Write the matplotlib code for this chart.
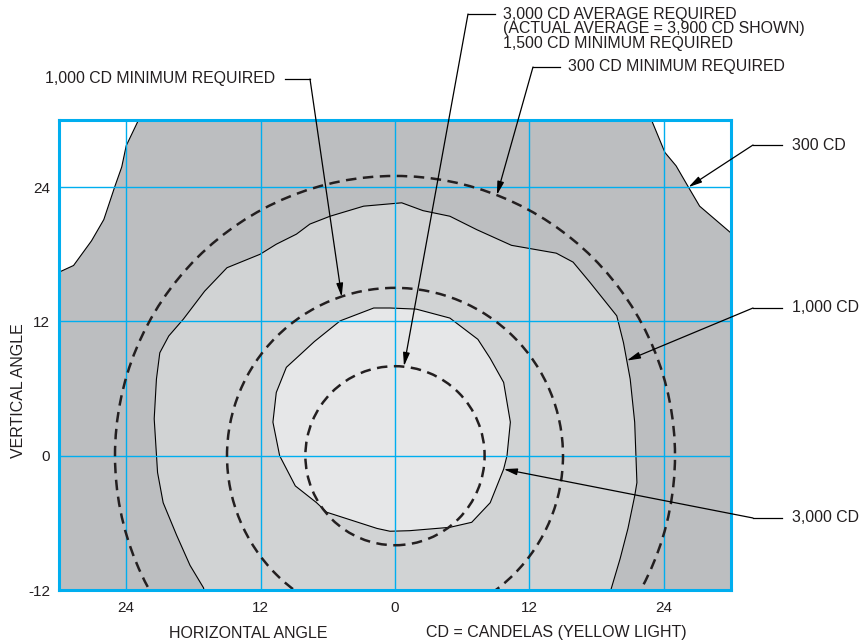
import matplotlib
matplotlib.use('Agg')
import matplotlib.pyplot as plt
from matplotlib.patches import Circle
from matplotlib.lines import Line2D

plt.rcParams['font.family'] = ['Liberation Sans', 'DejaVu Sans']

# contour boundaries (degrees)
c300_x = [-30, -28.7, -27.1, -26.0, -25.0, -24.4, -24.0, -22.9,
          22.9, 24.1, 25.1, 26.2, 27.2, 30]
c300_y = [16.4, 17.0, 19.2, 21.1, 24.1, 25.8, 27.7, 30,
          30, 27.1, 25.9, 24.0, 22.3, 19.9]

c1000_x = [-16.8, -17.1, -18.3, -19.5, -20.7, -21.2, -21.5, -21.3, -21.0, -20.2,
           -18.9, -17.0, -15.0, -12.05, -10.6, -8.8, -7.6, -5.8, -2.8, 0.6,
           2.5, 4.9, 7.3, 10.4, 14.4, 15.9, 17.4, 18.6, 19.8, 20.4,
           21.0, 21.4, 21.6, 21.4, 20.8, 20.1, 19.3, 19.0]
c1000_y = [-13, -11.8, -9.8, -7.1, -4.2, -1.5, 3.3, 6.85, 9.2, 10.7,
           12.2, 14.7, 16.8, 18.0, 18.9, 19.8, 20.7, 21.4, 22.3, 22.6,
           21.9, 21.4, 20.2, 18.8, 18.1, 17.3, 15.5, 14.0, 12.5, 10.1,
           6.85, 3.0, -2.4, -3.6, -6.5, -9.2, -11.9, -13]

c3000_x = [-0.45, 1.9, 4.9, 7.4, 8.5, 9.7, 10.3, 10.0, 9.7, 8.5,
           6.85, 4.9, 1.3, -0.45, -1.6, -6.1, -7.0, -8.9, -10.3, -10.9,
           -10.6, -9.7, -8.5, -7.2, -4.9, -1.9]
c3000_y = [13.2, 13.1, 12.3, 10.4, 8.7, 6.55, 3.0, 0, -1.2, -4.2,
           -5.95, -6.4, -6.7, -6.75, -6.5, -5.05, -4.2, -2.7, 0, 3.0,
           5.65, 7.9, 9.0, 10.2, 12.05, 13.2]

# required-intensity circles (dashed)
circle_radii = [8, 15, 25]

xticks = [-24, -12, 0, 12, 24]
xtick_labels = ['24', '12', '0', '12', '24']
yticks = [-12, 0, 12, 24]
ytick_labels = ['-12', '0', '12', '24']

# callouts: text, arrow tip (data)
top_labels = ['1,000 CD MINIMUM REQUIRED', '3,000 CD AVERAGE REQUIRED',
              '300 CD MINIMUM REQUIRED']
top_tips = [(-4.76, 14.2), (0.8, 8.0), (9.1, 23.3)]
side_labels = ['300 CD', '1,000 CD', '3,000 CD']
side_tips = [(26.2, 24.0), (20.7, 8.5), (9.7, -1.2)]

W, H = 860, 640
BLUE = '#00aeef'
TXT = '#231f20'


def pix(x, y):
    # pixel position (from top-left) -> figure fraction
    return (x / W, 1 - y / H)


fig = plt.figure(figsize=(8.6, 6.4), dpi=100)
ax = fig.add_axes([59 / W, 50 / H, 672 / W, 470 / H])
ax.set_xlim(-30, 30)
ax.set_ylim(-12, 30)

ax.fill(c300_x + [30, -30], c300_y + [-12, -12], facecolor='#bcbec0',
        edgecolor='black', lw=0.8, zorder=1)
ax.fill(c1000_x, c1000_y, facecolor='#d1d3d4', edgecolor='black', lw=0.8, zorder=1.1)
ax.fill(c3000_x, c3000_y, facecolor='#e6e7e8', edgecolor='black', lw=0.8, zorder=1.2)

for r in circle_radii:
    ax.add_patch(Circle((0, 0), r, fill=False, edgecolor='#231f20', lw=1.8,
                        linestyle=(0, (4.2, 2.6)), zorder=3))

ax.set_xticks(xticks)
ax.set_xticklabels(xtick_labels)
ax.set_yticks(yticks)
ax.set_yticklabels(ytick_labels)
ax.tick_params(axis='both', length=0, labelsize=11, labelcolor=TXT)
ax.tick_params(axis='x', pad=8)
ax.tick_params(axis='y', pad=6.5)
ax.grid(True, color=BLUE, lw=1.0)
ax.set_axisbelow('line')
for s in ax.spines.values():
    s.set_color(BLUE)
    s.set_linewidth(2.2)
    s.set_zorder(5)

fs = 11.4
arrow = dict(arrowstyle='-|>,head_length=0.8,head_width=0.2', color='black',
             lw=0.9, shrinkA=0, shrinkB=0)

# top callouts
fig.text(*pix(275, 79), top_labels[0], ha='right', va='center', fontsize=fs, color=TXT)
fig.text(*pix(503, 14.3), top_labels[1], ha='left', va='center', fontsize=fs, color=TXT)
fig.text(*pix(503, 28.7), '(ACTUAL AVERAGE = 3,900 CD SHOWN)', ha='left', va='center',
         fontsize=fs, color=TXT)
fig.text(*pix(503, 43.2), '1,500 CD MINIMUM REQUIRED', ha='left', va='center',
         fontsize=fs, color=TXT)
fig.text(*pix(568, 67), top_labels[2], ha='left', va='center', fontsize=fs, color=TXT)

top_legs = [((285, 79), (310, 79)), ((495, 14), (468, 14)), ((560, 67), (533, 67))]
for (p0, p1), tip in zip(top_legs, top_tips):
    a, b = pix(*p0), pix(*p1)
    fig.add_artist(Line2D([a[0], b[0]], [a[1], b[1]], color='black', lw=0.9))
    ax.annotate('', xy=tip, xycoords='data', xytext=b, textcoords='figure fraction',
                arrowprops=arrow, annotation_clip=False, zorder=6)

# side callouts
side_y = [145, 308, 518]
for lab, tip, yy in zip(side_labels, side_tips, side_y):
    fig.text(*pix(792, yy), lab, ha='left', va='center', fontsize=fs, color=TXT)
    a, b = pix(782, yy), pix(753, yy)
    fig.add_artist(Line2D([a[0], b[0]], [a[1], b[1]], color='black', lw=0.9))
    ax.annotate('', xy=tip, xycoords='data', xytext=b, textcoords='figure fraction',
                arrowprops=arrow, annotation_clip=False, zorder=6)

fig.text(*pix(248, 633), 'HORIZONTAL ANGLE', ha='center', va='center', fontsize=11.5, color=TXT)
fig.text(*pix(556, 633), 'CD = CANDELAS (YELLOW LIGHT)', ha='center', va='center',
         fontsize=11.5, color=TXT)
fig.text(*pix(19, 391), 'VERTICAL ANGLE', ha='center', va='center', rotation=90,
         fontsize=11.5, color=TXT)

fig.savefig('out.png', dpi=100)
